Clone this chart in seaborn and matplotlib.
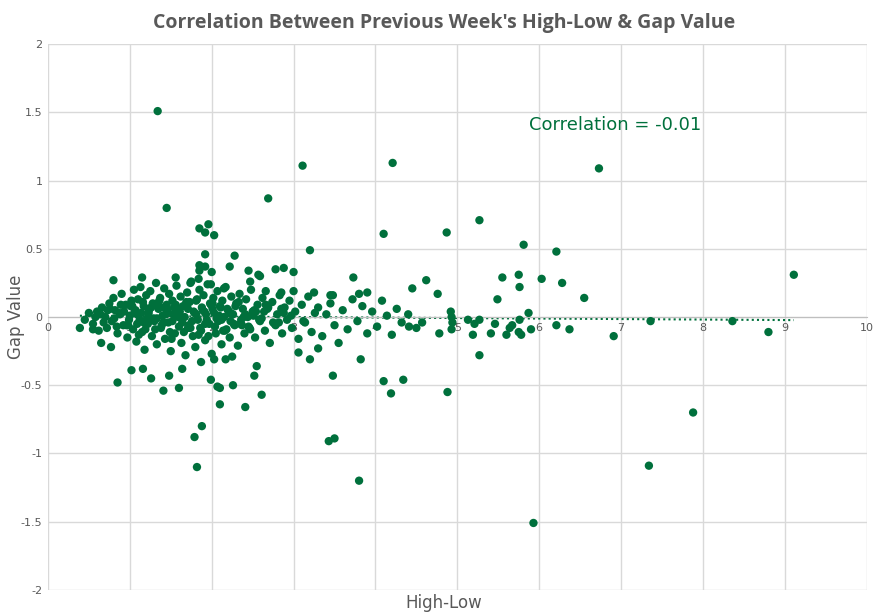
import numpy as np
import pandas as pd
import matplotlib
matplotlib.use("Agg")
import matplotlib.pyplot as plt
import seaborn as sns

# Outlying / readable points
x_out = [6.73,5.27,4.87,5.81,6.21,9.11,5.55,5.75,6.03,5.76,6.28,4.62,4.45,4.76,5.49,6.55,4.92,5.87,4.93,4.94,
         5.13,5.27,5.21,5.46,4.57,4.41,5.76,5.67,5.64,6.21,5.90,6.37,7.36,8.36,8.80,6.91,5.41,5.60,5.75,5.78,
         5.19,4.78,4.93,5.27,4.34,4.88,7.88,7.34,5.93,3.80,1.34,3.11,4.21,
         1.45,2.69,1.96,1.85,1.92,2.03,4.10,3.20,1.92,2.28,1.85,1.85,1.92,2.00,2.22,2.45,2.47,2.57,2.59,2.78,2.88,
         3.00,3.73,0.80,1.15,1.56,1.84,1.74,1.99,2.15,3.25,3.45,3.48,3.90,3.80,3.00,2.85,2.66,
         0.85,1.02,1.16,1.26,1.41,1.48,1.60,1.64,1.87,2.03,1.99,2.07,2.10,2.10,2.26,2.41,2.52,2.55,2.61,2.17,2.25,
         1.88,1.79,1.82,3.43,3.50,3.48,3.06,3.20,3.30,4.10,4.19,3.82,0.77,0.65,0.55,0.39]
y_out = [1.09,0.71,0.62,0.53,0.48,0.31,0.29,0.31,0.28,0.22,0.25,0.27,0.21,0.17,0.13,0.14,0.04,0.03,0.00,-0.04,
         -0.02,-0.02,-0.05,-0.05,-0.04,-0.07,-0.02,-0.06,-0.08,-0.06,-0.09,-0.09,-0.03,-0.03,-0.11,-0.14,-0.12,-0.13,-0.11,-0.13,
         -0.13,-0.12,-0.09,-0.28,-0.46,-0.55,-0.70,-1.09,-1.51,-1.20,1.51,1.11,1.13,
         0.80,0.87,0.68,0.65,0.62,0.60,0.61,0.49,0.46,0.45,0.38,0.34,0.37,0.33,0.37,0.34,0.26,0.31,0.30,0.35,0.36,
         0.33,0.29,0.27,0.29,0.29,0.28,0.25,0.24,0.21,0.18,0.16,0.16,0.18,0.17,0.19,0.18,0.19,
         -0.48,-0.39,-0.38,-0.45,-0.54,-0.43,-0.52,-0.38,-0.33,-0.31,-0.46,-0.51,-0.52,-0.64,-0.50,-0.66,-0.43,-0.36,-0.57,-0.31,-0.29,
         -0.80,-0.88,-1.10,-0.91,-0.89,-0.43,-0.26,-0.31,-0.23,-0.47,-0.56,-0.31,-0.22,-0.19,-0.09,-0.08]

# Dense cluster points (read approximately)
x_core = [0.45,0.50,0.55,0.60,0.62,0.66,0.70,0.72,0.75,0.78,0.80,0.82,0.85,0.88,0.90,0.92,0.95,0.97,1.00,1.02,
          1.04,1.05,1.07,1.08,1.10,1.12,1.13,1.15,1.17,1.18,1.20,1.22,1.23,1.25,1.27,1.28,1.30,1.32,1.33,1.35,
          1.37,1.38,1.40,1.42,1.43,1.45,1.47,1.48,1.50,1.52,1.53,1.55,1.57,1.58,1.60,1.62,1.63,1.65,1.67,1.68,
          1.70,1.72,1.73,1.75,1.77,1.78,1.80,1.82,1.83,1.85,1.87,1.88,1.90,1.92,1.93,1.95,1.97,1.98,2.00,2.02,
          2.03,2.05,2.07,2.08,2.10,2.12,2.13,2.15,2.17,2.18,2.20,2.22,2.24,2.26,2.28,2.30,2.32,2.34,2.36,2.38,
          2.40,2.42,2.44,2.46,2.48,2.50,2.53,2.56,2.59,2.62,2.65,2.68,2.71,2.74,2.77,2.80,2.83,2.86,2.89,2.92,
          2.95,2.98,3.02,3.06,3.10,3.14,3.18,3.22,3.26,3.30,3.35,3.40,3.45,3.50,3.55,3.60,3.66,3.72,3.78,3.84,
          3.90,3.96,4.02,4.08,4.14,4.20,4.26,4.32,4.40,4.50,
          0.58,0.68,0.76,0.84,0.93,0.99,1.03,1.09,1.14,1.19,1.24,1.29,1.34,1.39,1.44,1.49,1.54,1.59,1.64,1.69,
          1.74,1.79,1.84,1.89,1.94,1.99,2.04,2.09,2.14,2.19,2.23,2.29,2.35,2.41,2.47,2.54,2.61,2.69,2.78,2.88,
          0.64,0.73,0.81,0.89,0.96,1.06,1.11,1.16,1.21,1.26,1.31,1.36,1.41,1.46,1.51,1.56,1.61,1.66,1.71,1.76,
          1.81,1.86,1.91,1.96,2.01,2.06,2.11,2.16,2.21,2.27,2.33,2.39,2.45,2.52,2.58,2.66,2.75,2.85,2.97,3.12,
          0.87,0.98,1.01,1.09,1.17,1.23,1.33,1.41,1.52,1.61,1.71,1.81,1.92,2.01,2.12,2.23,2.37,2.51,2.64,2.82]
y_core = [-0.02,0.03,-0.05,0.04,-0.10,0.07,0.00,-0.08,0.10,-0.03,0.14,0.05,-0.12,0.02,0.17,-0.06,0.09,-0.15,0.01,0.12,
          -0.09,0.20,0.05,-0.18,0.13,-0.02,0.22,-0.11,0.08,-0.24,0.16,-0.05,0.03,0.19,-0.14,0.10,-0.03,0.25,-0.20,0.06,
          0.14,-0.08,0.01,0.21,-0.16,0.09,-0.04,0.17,-0.25,0.12,0.02,-0.12,0.23,0.05,-0.07,0.15,-0.19,0.08,0.00,-0.28,
          0.18,-0.06,0.11,0.26,-0.14,0.04,-0.22,0.13,-0.02,0.20,-0.10,0.07,0.16,-0.17,0.02,0.24,-0.05,0.10,-0.27,0.14,
          0.03,-0.12,0.19,-0.03,0.08,-0.20,0.12,0.00,0.22,-0.09,0.05,-0.15,0.15,0.02,-0.06,0.10,-0.21,0.17,-0.02,0.06,
          -0.12,0.13,0.00,-0.08,0.20,0.04,-0.15,0.09,-0.03,0.14,-0.10,0.06,-0.19,0.11,-0.05,0.02,0.16,-0.12,0.07,-0.02,
          0.12,-0.08,0.04,-0.16,0.09,-0.04,0.15,-0.11,0.03,0.07,-0.14,0.02,0.10,-0.06,-0.19,0.05,-0.09,0.13,-0.03,0.08,
          -0.12,0.04,-0.07,0.12,0.01,-0.13,0.06,-0.04,0.02,-0.08,
          0.00,-0.04,0.06,-0.07,0.04,-0.02,0.08,-0.05,0.03,-0.09,0.06,-0.01,0.10,-0.06,0.02,-0.11,0.07,0.00,-0.04,0.11,
          -0.08,0.03,-0.13,0.05,-0.02,0.09,-0.07,0.01,-0.10,0.06,-0.03,0.08,-0.05,0.02,-0.09,0.04,-0.01,0.07,-0.06,0.03,
          0.02,0.05,-0.01,0.09,-0.06,0.04,-0.13,0.11,-0.01,0.07,-0.09,0.12,-0.04,0.05,-0.16,0.09,0.01,-0.11,0.06,-0.03,
          0.12,-0.08,0.04,-0.14,0.10,-0.01,0.07,-0.10,0.03,-0.05,0.11,0.00,-0.07,0.05,-0.02,0.09,-0.04,0.06,0.01,-0.03,
          0.03,-0.06,0.08,0.02,-0.04,0.05,-0.01,0.07,-0.03,0.04,-0.08,0.02,-0.05,0.06,-0.02,0.03,-0.06,0.01,0.04,-0.04]

x_vals = np.array(x_out + x_core)
y_vals = np.array(y_out + y_core)
df = pd.DataFrame({"High-Low": x_vals, "Gap Value": y_vals})

green = "#00703C"
fig = plt.figure(figsize=(8.88, 6.15), dpi=100)
ax = fig.add_axes([0.054, 0.041, 0.922, 0.887])
sns.scatterplot(data=df, x="High-Low", y="Gap Value", ax=ax, color=green, s=36, edgecolor="none", zorder=3)

m, b = np.polyfit(x_vals, y_vals, 1)
xl = np.array([x_vals.min(), x_vals.max()])
ax.plot(xl, m * xl + b, linestyle=(0, (1, 1.5)), color=green, lw=1.5, zorder=2)

ax.set_xlim(0, 10)
ax.set_ylim(-2, 2)
ax.set_xticks(range(0, 11))
ax.set_yticks([-2, -1.5, -1, -0.5, 0, 0.5, 1, 1.5, 2])
ax.set_yticklabels(["-2", "-1.5", "-1", "-0.5", "0", "0.5", "1", "1.5", "2"])
ax.grid(True, color="#d9d9d9", lw=1, zorder=0)
ax.set_axisbelow(True)
for s in ["top", "right", "left"]:
    ax.spines[s].set_visible(False)
ax.spines["bottom"].set_position(("data", 0))
ax.spines["bottom"].set_color("#bfbfbf")
ax.tick_params(length=0, labelsize=8, colors="#595959", pad=4)
ax.set_xlabel("")
ax.set_ylabel("")
fig.text(0.018, 0.485, "Gap Value", rotation=90, ha="center", va="center", fontsize=12, color="#595959")
fig.text(0.5, 0.012, "High-Low", ha="center", fontsize=12, color="#595959")
fig.text(0.5, 0.955, "Correlation Between Previous Week's High-Low & Gap Value",
         ha="center", fontsize=14, fontweight="bold", color="#595959", family="Open Sans")
ax.text(5.87, 1.41, "Correlation = -0.01", fontsize=13, color=green, va="center")
fig.savefig("out.png", dpi=100)
